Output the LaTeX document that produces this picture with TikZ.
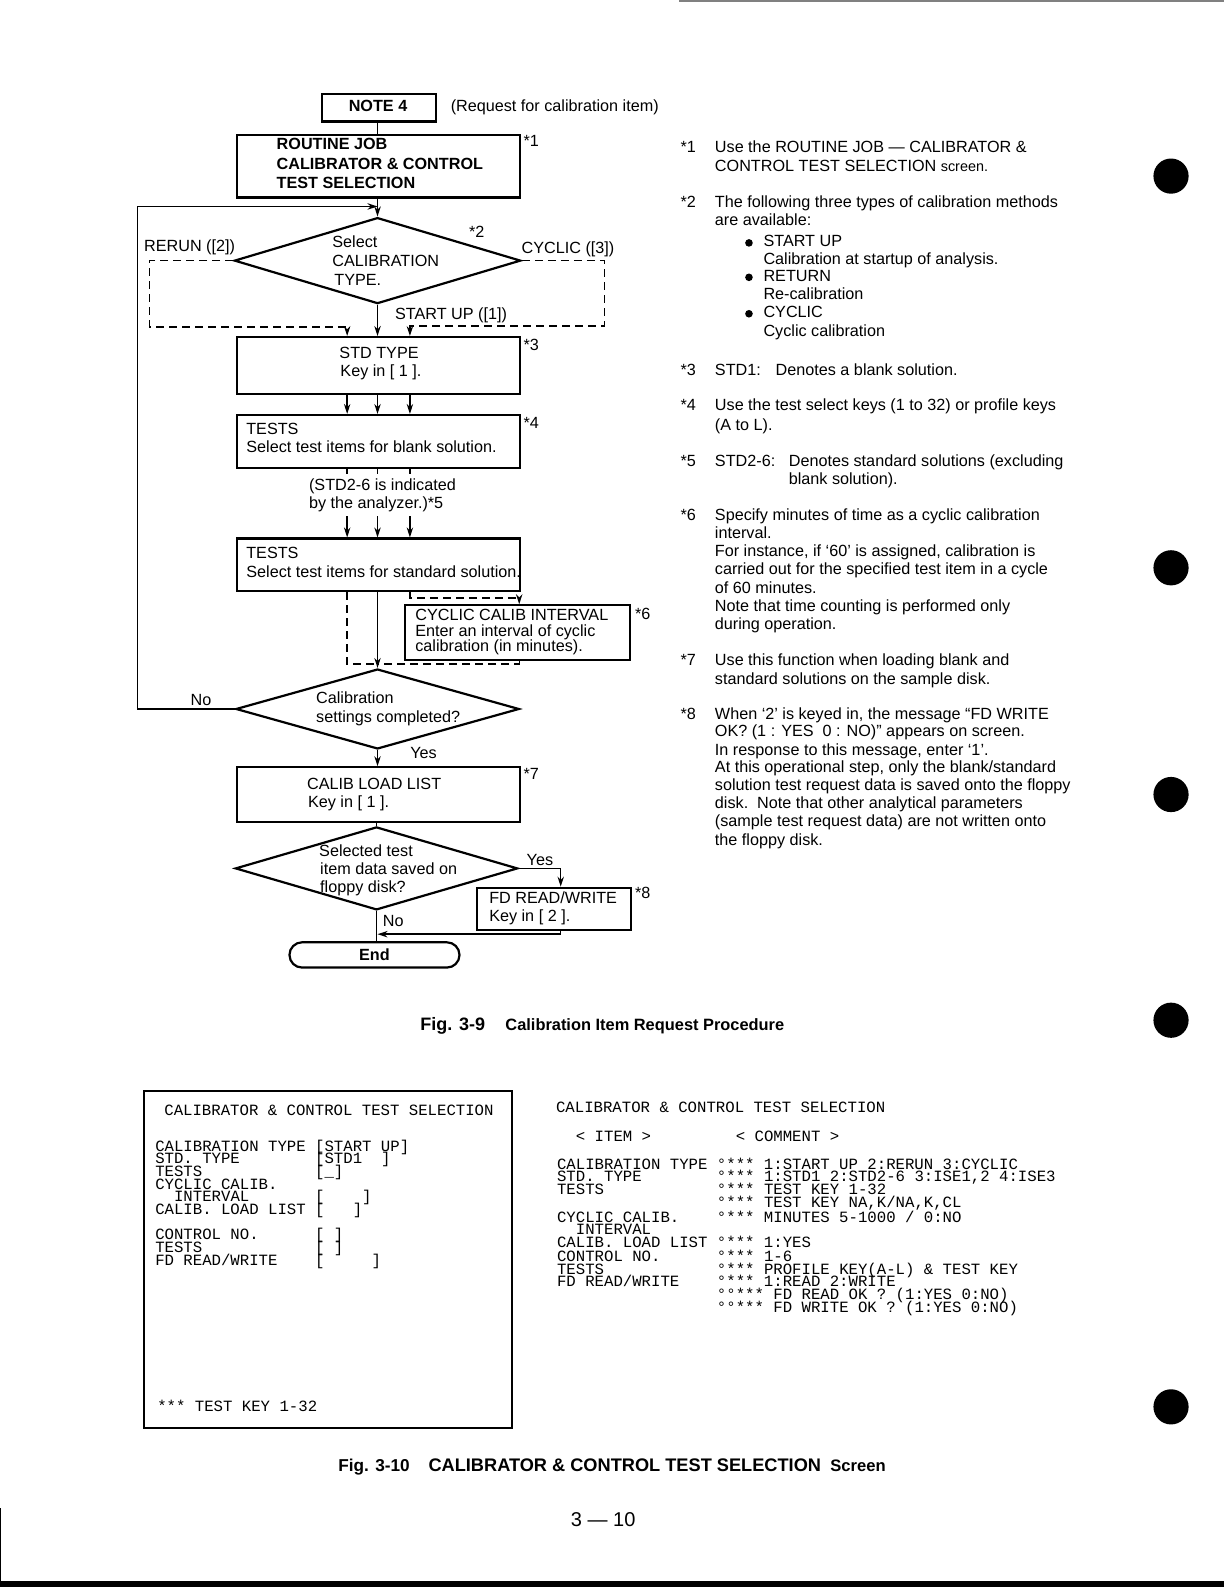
\documentclass[tikz,border=0pt]{standalone}
\usepackage{fontspec}
\setmainfont{Liberation Sans}
\newfontfamily\monof{Liberation Mono}
\usetikzlibrary{arrows.meta,shapes.geometric,calc}
\newcommand\pxu{0.5062pt}
\newcommand\fsz{\fontsize{8.1pt}{9.1pt}\selectfont}
\tikzset{
 txt/.style={inner sep=0pt, anchor=base west, font=\fsz},
 btxt/.style={inner sep=0pt, anchor=base west, font=\fsz\bfseries},
 mono/.style={inner sep=0pt, anchor=base west, text height=5.2pt, text depth=0.4pt, font=\monof\fontsize{7.84pt}{8pt}\selectfont},
 box/.style={draw, line width=1.1pt, inner sep=0pt, anchor=north west},
 dia/.style={draw, diamond, line width=1.1pt, inner sep=0pt},
 arr/.style={line width=0.7pt, -{Stealth[length=5pt,width=3.2pt]}},
 ln/.style={line width=0.7pt},
 dsh/.style={line width=0.7pt, dash pattern=on 4pt off 2.5pt},
}
\begin{document}
\begin{tikzpicture}[x=0.5062pt,y=-0.5062pt]
\useasboundingbox (0,0) rectangle (1209,1568);
% page marks
\draw[gray, line width=1pt] (671,0.8) -- (1209,0.8);
\fill (0,1562) rectangle (1209,1568);
\draw[line width=0.6pt] (0.5,1490) -- (0.5,1568);
\foreach \yy in {174,561,785,1008,1390} \fill (1157,\yy) circle[radius=8.8pt];

% ---------------- flowchart boxes
\node[box, minimum width=113*\pxu, minimum height=27*\pxu] (note4) at (317,92) {};
\node[btxt, anchor=base] (note4t) at (373.5,110) {NOTE 4};
\node[txt] (req) at (445,110) {(Request for calibration item)};

\node[box, minimum width=280*\pxu, minimum height=62*\pxu] (routine) at (233,132) {};
\node[btxt] (r1) at (273,148) {ROUTINE JOB};
\node[btxt] (r2) at (273,167) {CALIBRATOR \& CONTROL};
\node[btxt] (r3) at (273,186) {TEST SELECTION};
\node[txt] (s1) at (517,145) {*1};

\node[dia, minimum width=283*\pxu, minimum height=85*\pxu] (d1) at (373,257.5) {};
\node[txt] (d1a) at (328,245) {Select};
\node[txt] (d1b) at (328,263) {CALIBRATION};
\node[txt] (d1c) at (330,282) {TYPE.};
\node[txt] (s2) at (463,235) {*2};
\node[txt] (rerun) at (142,248) {RERUN ([2])};
\node[txt] (cyclic) at (515,250) {CYCLIC ([3])};
\node[txt] (startup) at (390,316) {START UP ([1])};

\node[box, minimum width=280*\pxu, minimum height=56*\pxu] (std) at (233,332) {};
\node[txt] (std1) at (335,354) {STD TYPE};
\node[txt] (std2) at (336,372) {Key in [ 1 ].};
\node[txt] (s3) at (517,346) {*3};

\node[box, minimum width=280*\pxu, minimum height=52*\pxu] (tests1) at (233,409) {};
\node[txt] (t1a) at (243,429) {TESTS};
\node[txt] (t1b) at (243,447) {Select test items for blank solution.};
\node[txt] (s4) at (517,423) {*4};

\node[txt] (ind1) at (305,485) {(STD2-6 is indicated};
\node[txt] (ind2) at (305,502) {by the analyzer.)*5};

\node[box, minimum width=280*\pxu, minimum height=52*\pxu] (tests2) at (233,531) {};
\node[txt] (t2a) at (243,552) {TESTS};
\node[txt] (t2b) at (243,571) {Select test items for standard solution.};

\node[box, minimum width=222*\pxu, minimum height=54*\pxu] (cyci) at (399,597) {};
\node[txt] (c1) at (410,613) {CYCLIC CALIB INTERVAL};
\node[txt] (c2) at (410,629) {Enter an interval of cyclic};
\node[txt] (c3) at (410,644) {calibration (in minutes).};
\node[txt] (s6) at (627,612) {*6};

\node[dia, minimum width=280*\pxu, minimum height=79*\pxu] (d2) at (373,700.5) {};
\node[txt] (d2a) at (312,695) {Calibration};
\node[txt] (d2b) at (312,714) {settings completed?};
\node[txt] (no1) at (188,697) {No};
\node[txt] (yes1) at (405,749) {Yes};

\node[box, minimum width=280*\pxu, minimum height=54*\pxu] (load) at (233,757) {};
\node[txt] (l1) at (303,780) {CALIB LOAD LIST};
\node[txt] (l2) at (304,798) {Key in [ 1 ].};
\node[txt] (s7) at (517,770) {*7};

\node[dia, minimum width=279*\pxu, minimum height=82*\pxu] (d3) at (372,858) {};
\node[txt] (d3a) at (315,846) {Selected test};
\node[txt] (d3b) at (316,864) {item data saved on};
\node[txt] (d3c) at (316,882) {floppy disk?};
\node[txt] (yes2) at (520,855) {Yes};
\node[txt] (no2) at (378,915) {No};

\node[box, minimum width=152*\pxu, minimum height=42*\pxu] (fd) at (470,876) {};
\node[txt] (f1) at (483,893) {FD READ/WRITE};
\node[txt] (f2) at (483,910) {Key in [ 2 ].};
\node[txt] (s8) at (627,888) {*8};

\node[draw, line width=1.1pt, rounded corners=12.5*\pxu, minimum width=168*\pxu, minimum height=25*\pxu, inner sep=0pt, font=\fsz\bfseries] (endn) at (370,943.5) {End};

% ---------------- connectors
\coordinate (cL) at (343,0);
\coordinate (cM) at (373,0);
\coordinate (cR) at (405,0);
\draw[ln] (note4.south -| cM) -- (routine.north -| cM);
\draw[arr] (routine.south -| cM) -- (d1.north);
\coordinate (fbc) at (136,204);
\draw[arr] (d2.west) -| (fbc) -- (cM |- fbc);
\coordinate (rer) at (148,323);
\draw[dsh, arr] (d1.west) -| (rer) -| (std.north -| cL);
\coordinate (cyc) at (597,322);
\draw[dsh, arr] (d1.east) -| (cyc) -| (std.north -| cR);
\draw[arr] (d1.south) -- (std.north -| d1.south);
\foreach \c in {cL,cM,cR} \draw[arr] (std.south -| \c) -- (tests1.north -| \c);
\coordinate (tk) at (0,468);
\foreach \c in {cL,cM,cR} \draw[ln] (tests1.south -| \c) -- (tk -| \c);
\coordinate (ts) at (0,510);
\foreach \c in {cL,cM,cR} \draw[arr] (ts -| \c) -- (tests2.north -| \c);
\draw[arr] (tests2.south -| cM) -- (d2.north);
\coordinate (jn) at (373,656);
\draw[dsh] (tests2.south -| cL) |- (jn);
\coordinate (cj) at (513,591);
\draw[dsh, arr] (tests2.south -| cR) |- (cj) -- (cyci.north -| cj);
\draw[dsh] (cyci.south -| cj) |- (jn);
\draw[arr] (d2.south) -- (load.north -| d2.south);
\draw[ln] (load.south -| d3.north) -- (d3.north);
\coordinate (fdx) at (554,0);
\draw[arr] (d3.east) -| (fd.north -| fdx);
\draw[ln] (d3.south) -- (endn.north -| d3.south);
\coordinate (ej) at (373,923);
\draw[arr] (fd.south -| fdx) |- (ej);

% ---------------- captions
\node[inner sep=0pt, anchor=base west, font=\fontsize{9pt}{10pt}\selectfont\bfseries] (cap9a) at (415,1018) {Fig. 3-9};
\node[inner sep=0pt, anchor=base west, font=\fontsize{8.2pt}{10pt}\selectfont\bfseries] (cap9b) at (499,1018) {Calibration Item Request Procedure};
\node[inner sep=0pt, anchor=base west, font=\fontsize{8.6pt}{10pt}\selectfont\bfseries] (cap10a) at (334,1454) {Fig. 3-10};
\node[inner sep=0pt, anchor=base west, font=\fontsize{9.1pt}{10pt}\selectfont\bfseries] (cap10b) at (423,1454) {CALIBRATOR \& CONTROL TEST SELECTION};
\node[inner sep=0pt, anchor=base west, font=\fontsize{8.3pt}{10pt}\selectfont\bfseries] (cap10c) at (820,1454) {Screen};
\node[inner sep=0pt, anchor=base, font=\fontsize{10pt}{12pt}\selectfont] (pageno) at (596,1508) {3 — 10};

% ---------------- right notes
\node[txt] (k1) at (672,151) {*1};
\node[txt] (n1a) at (706,151) {Use the ROUTINE JOB — CALIBRATOR \&};
\node[txt] (n1b) at (706,169) {CONTROL TEST SELECTION {\fontsize{7.2pt}{8pt}\selectfont screen.}};
\node[txt] (k2) at (672,205) {*2};
\node[txt] (n2a) at (706,205) {The following three types of calibration methods};
\node[txt] (n2b) at (706,223) {are available:};
\foreach \yy in {240,274,310} \fill (740,\yy) circle[radius=1.9pt];
\node[txt] (b1a) at (754,244) {START UP};
\node[txt] (b1b) at (754,261) {Calibration at startup of analysis.};
\node[txt] (b2a) at (754,278) {RETURN};
\node[txt] (b2b) at (754,296) {Re-calibration};
\node[txt] (b3a) at (754,314) {CYCLIC};
\node[txt] (b3b) at (754,332) {Cyclic calibration};
\node[txt] (k3) at (672,371) {*3};
\node[txt] (n3a) at (706,371) {STD1:};
\node[txt] (n3b) at (766,371) {Denotes a blank solution.};
\node[txt] (k4) at (672,406) {*4};
\node[txt] (n4a) at (706,406) {Use the test select keys (1 to 32) or profile keys};
\node[txt] (n4b) at (706,425) {(A to L).};
\node[txt] (k5) at (672,461) {*5};
\node[txt] (n5a) at (706,461) {STD2-6:};
\node[txt] (n5b) at (779,461) {Denotes standard solutions (excluding};
\node[txt] (n5c) at (779,479) {blank solution).};
\node[txt] (k6) at (672,514) {*6};
\node[txt] (n6a) at (706,514) {Specify minutes of time as a cyclic calibration};
\node[txt] (n6b) at (706,532) {interval.};
\node[txt] (n6c) at (706,550) {For instance, if ‘60’ is assigned, calibration is};
\node[txt] (n6d) at (706,568) {carried out for the specified test item in a cycle};
\node[txt] (n6e) at (706,586) {of 60 minutes.};
\node[txt] (n6f) at (706,604) {Note that time counting is performed only};
\node[txt] (n6g) at (706,622) {during operation.};
\node[txt] (k7) at (672,658) {*7};
\node[txt] (n7a) at (706,658) {Use this function when loading blank and};
\node[txt] (n7b) at (706,676) {standard solutions on the sample disk.};
\node[txt] (k8) at (672,711) {*8};
\node[txt] (n8a) at (706,711) {When ‘2’ is keyed in, the message “FD WRITE};
\node[txt] (n8b) at (706,728) {OK? (1 : YES~~0 : NO)” appears on screen.};
\node[txt] (n8c) at (706,746) {In response to this message, enter ‘1’.};
\node[txt] (n8d) at (706,763) {At this operational step, only the blank/standard};
\node[txt] (n8e) at (706,781) {solution test request data is saved onto the floppy};
\node[txt] (n8f) at (706,799) {disk.~~Note that other analytical parameters};
\node[txt] (n8g) at (706,817) {(sample test request data) are not written onto};
\node[txt] (n8h) at (706,835) {the floppy disk.};

% ---------------- screen (left)
\node[draw, line width=0.9pt, minimum width=364*\pxu, minimum height=333*\pxu, anchor=north west, inner sep=0pt] (scr) at (141,1077) {};
\node[mono] (m0) at (162,1102) {CALIBRATOR~\&~CONTROL~TEST~SELECTION};
\node[mono] (m1) at (153,1138) {CALIBRATION~TYPE~[START~UP]};
\node[mono] (m2) at (153,1150) {STD.~TYPE~~~~~~~~[STD1~~]};
\node[mono] (m3) at (153,1162) {TESTS~~~~~~~~~~~~[\_]};
\node[mono] (m4) at (153,1175) {CYCLIC~CALIB.};
\node[mono] (m5) at (153,1187) {~~INTERVAL~~~~~~~[~~~~]};
\node[mono] (m6) at (153,1200) {CALIB.~LOAD~LIST~[~~~]};
\node[mono] (m7) at (153,1225) {CONTROL~NO.~~~~~~[~]};
\node[mono] (m8) at (153,1237) {TESTS~~~~~~~~~~~~[~]};
\node[mono] (m9) at (153,1250) {FD~READ/WRITE~~~~[~~~~~]};
\node[mono] (m10) at (155,1395) {***~TEST~KEY~1-32};

% ---------------- screen (right)
\node[mono] (q0) at (549,1099) {CALIBRATOR~\&~CONTROL~TEST~SELECTION};
\node[mono] (q1) at (550,1128) {~~<~ITEM~>~~~~~~~~~<~COMMENT~>};
\node[mono] (q2) at (550,1155) {CALIBRATION~TYPE~°***~1:START~UP~2:RERUN~3:CYCLIC};
\node[mono] (q3) at (550,1167) {STD.~TYPE~~~~~~~~°***~1:STD1~2:STD2-6~3:ISE1,2~4:ISE3};
\node[mono] (q4) at (550,1180) {TESTS~~~~~~~~~~~~°***~TEST~KEY~1-32};
\node[mono] (q5) at (550,1193) {~~~~~~~~~~~~~~~~~°***~TEST~KEY~NA,K/NA,K,CL};
\node[mono] (q6) at (550,1208) {CYCLIC~CALIB.~~~~°***~MINUTES~5-1000~/~0:NO};
\node[mono] (q7) at (550,1220) {~~INTERVAL};
\node[mono] (q8) at (550,1233) {CALIB.~LOAD~LIST~°***~1:YES};
\node[mono] (q9) at (550,1246) {CONTROL~NO.~~~~~~°***~1-6};
\node[mono] (q10) at (550,1259) {TESTS~~~~~~~~~~~~°***~PROFILE~KEY(A-L)~\&~TEST~KEY};
\node[mono] (q11) at (550,1271) {FD~READ/WRITE~~~~°***~1:READ~2:WRITE};
\node[mono] (q12) at (550,1284) {~~~~~~~~~~~~~~~~~°°***~FD~READ~OK~?~(1:YES~0:NO)};
\node[mono] (q13) at (550,1297) {~~~~~~~~~~~~~~~~~°°***~FD~WRITE~OK~?~(1:YES~0:NO)};
\end{tikzpicture}
\end{document}
